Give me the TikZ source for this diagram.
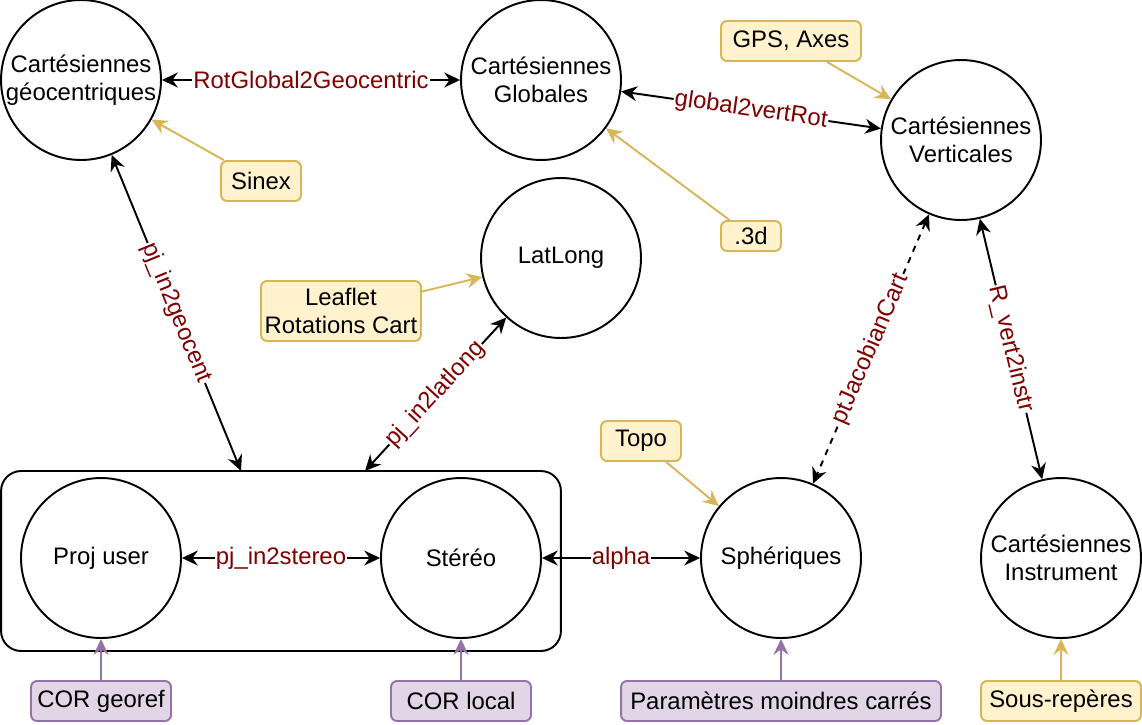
\documentclass[tikz,border=0pt]{standalone}
\usepackage{fontspec}
\setmainfont{Liberation Sans}
\usetikzlibrary{arrows.meta}
\definecolor{lblred}{RGB}{128,0,0}
\definecolor{notefill}{HTML}{FFF2CC}
\definecolor{notedraw}{HTML}{D6B656}
\definecolor{parfill}{HTML}{E1D5E7}
\definecolor{pardraw}{HTML}{9673A6}

\begin{document}
\begin{tikzpicture}[x=0.02cm, y=-0.02cm,
  font=\fontsize{13.6pt}{16pt}\selectfont,
  >={Stealth[length=9pt, width=8.5pt, inset=3pt]},
  frame/.style={circle, draw, fill=white, line width=1.1pt, minimum size=3.2cm, inner sep=0pt, align=center},
  note/.style={draw=notedraw, fill=notefill, line width=1.1pt, rounded corners=0.12cm, inner sep=0pt, minimum height=0.8cm, align=center},
  param/.style={draw=pardraw, fill=parfill, line width=1.1pt, rounded corners=0.12cm, inner sep=0pt, minimum height=0.8cm},
  conv/.style={<->, line width=1.1pt},
  lbl/.style={text=lblred, fill=white, inner sep=0.6pt, sloped},
  hint/.style={->, draw=notedraw, line width=1.1pt},
  phint/.style={->, draw=pardraw, line width=1.1pt}]
\useasboundingbox (0,0) rectangle (1142,724);
\node[draw, rounded corners=0.4cm, line width=1.1pt, minimum width=11.2cm, minimum height=3.6cm] (grp) at (281,561) {};
\coordinate (gin) at (241,471);
\coordinate (gll) at (365,471);
\node[frame] (geo) at (81,80) {Cartésiennes\\géocentriques};
\node[frame] (glob) at (541,80) {Cartésiennes\\Globales};
\node[frame] (vert) at (961,140) {Cartésiennes\\Verticales};
\node[frame] (ll) at (561,258) {LatLong};
\node[frame] (proj) at (101,558) {Proj user};
\node[frame] (stereo) at (461,558) {Stéréo};
\node[frame] (spher) at (781,558) {Sphériques};
\node[frame] (instr) at (1061,558) {Cartésiennes\\Instrument};
\node[note, minimum width=2.8cm] (gps) at (791,41) {GPS, Axes};
\node[note, minimum width=1.6cm] (sinex) at (261,181) {Sinex};
\node[note, minimum width=1.2cm, minimum height=0.6cm] (trois) at (751,236) {.3d};
\node[note, minimum width=3.2cm, minimum height=1.2cm] (leaf) at (341,311) {Leaflet\\Rotations Cart};
\node[note, minimum width=1.6cm] (topo) at (641,441) {Topo};
\node[note, minimum width=3.2cm] (sous) at (1061,701) {Sous-repères};
\node[param, minimum width=2.8cm] (corg) at (101,701) {COR georef};
\node[param, minimum width=2.8cm] (corl) at (461,701) {COR local};
\node[param, minimum width=6.4cm] (moind) at (781,701) {Paramètres moindres carrés};
\draw[conv] (geo) -- (glob) node[lbl, midway] {RotGlobal2Geocentric};
\draw[conv] (glob) -- (vert) node[lbl, midway] {global2vertRot};
\draw[conv] (geo) -- (gin) node[lbl, midway] {pj\_in2geocent};
\draw[conv] (gll) -- (ll) node[lbl, midway] {pj\_in2latlong};
\draw[conv, dash pattern=on 3.5pt off 3.5pt] (vert) -- (spher) node[lbl, midway] {ptJacobianCart};
\draw[conv] (vert) -- (instr) node[lbl, midway] {R\_vert2instr};
\draw[conv] (proj) -- (stereo) node[lbl, midway] {pj\_in2stereo};
\draw[conv] (stereo) -- (spher) node[lbl, midway] {alpha};
\draw[hint] (sinex) -- (geo);
\draw[hint] (gps) -- (vert);
\draw[hint] (trois) -- (glob);
\draw[hint] (leaf) -- (ll);
\draw[hint] (topo) -- (spher);
\draw[hint] (sous) -- (instr);
\draw[phint] (corg) -- (proj);
\draw[phint] (corl) -- (stereo);
\draw[phint] (moind) -- (spher);
\end{tikzpicture}
\end{document}
